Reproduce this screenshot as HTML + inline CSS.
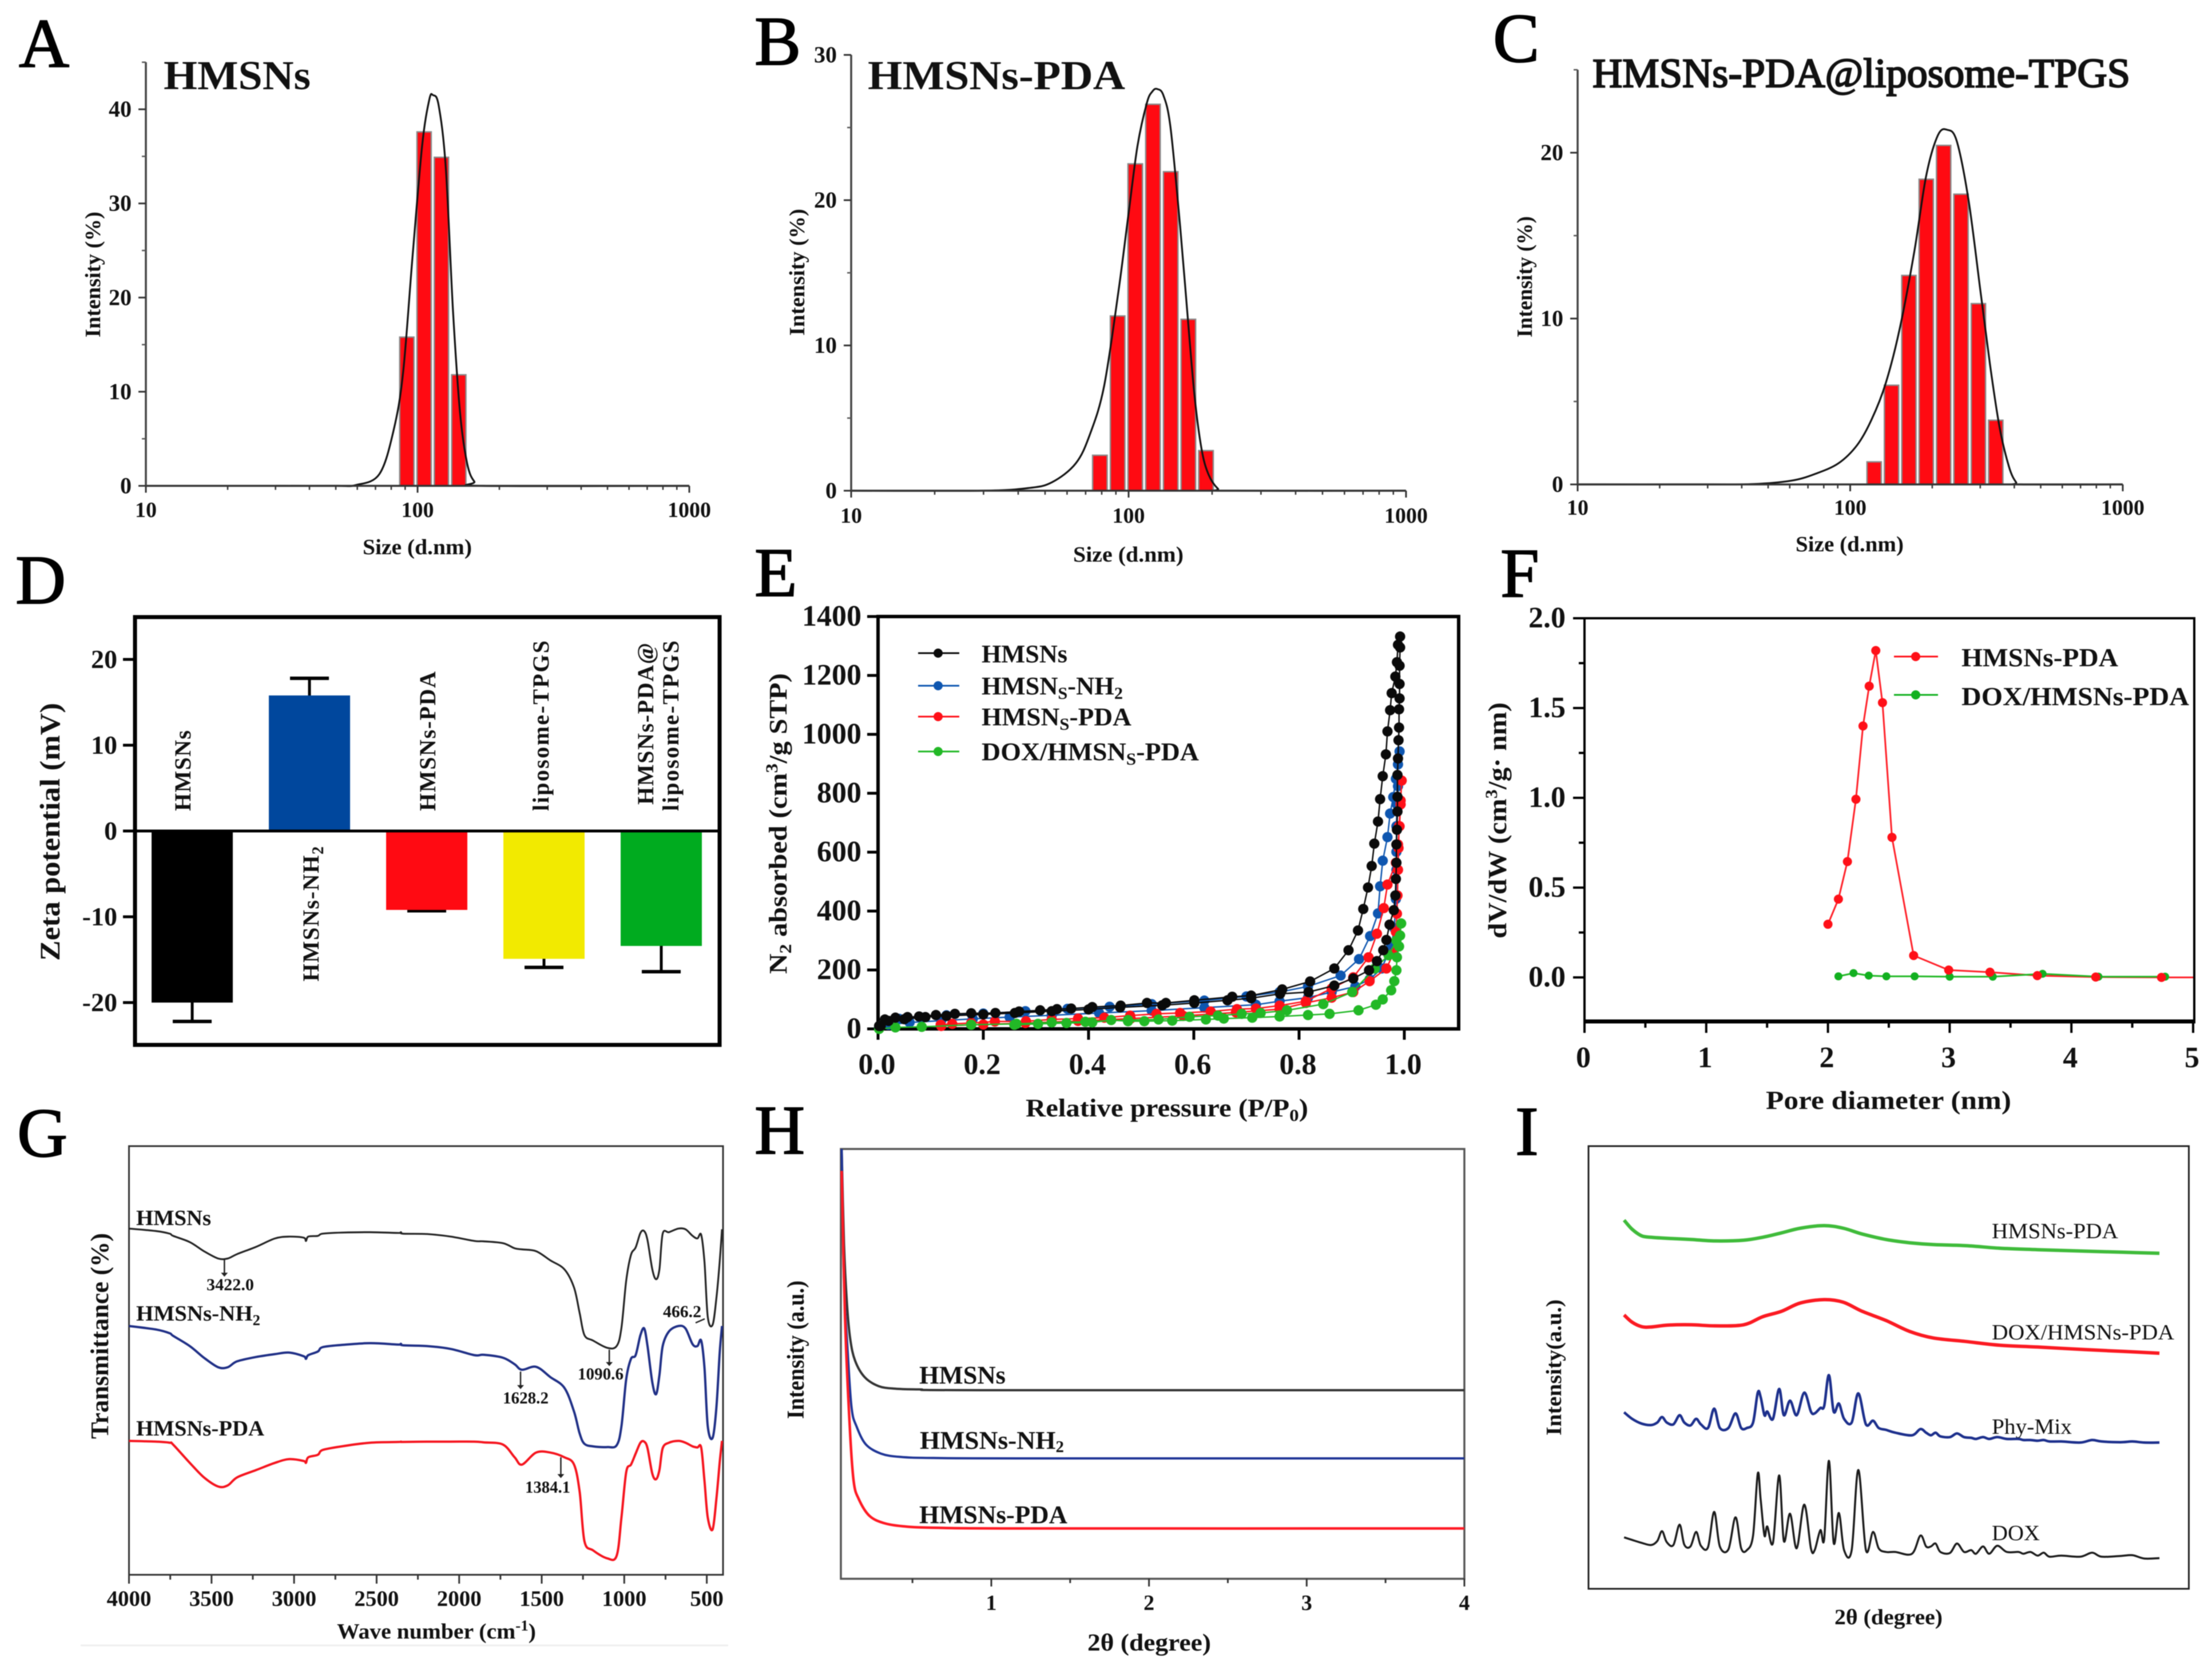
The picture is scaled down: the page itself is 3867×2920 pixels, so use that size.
<!DOCTYPE html>
<html lang="en">
<head>
<meta charset="utf-8">
<title>HMSNs characterization figure</title>
<style>
html,body{margin:0;padding:0;background:#fff;width:3867px;height:2920px;overflow:hidden}
svg{display:block;filter:blur(0.9px)}
text{font-family:"Liberation Serif",serif;fill:#111}
.b{font-weight:bold}
.letter{font-size:122px;fill:#000;stroke:#000;stroke-width:2}
.t72{font-size:72px}
.t46{font-size:46px}
.t44{font-size:44px}
.t42{font-size:42px}
.t40{font-size:40px}
.t38{font-size:38px}
.t30{font-size:30px}
</style>
</head>
<body>
<svg id="figure" xmlns="http://www.w3.org/2000/svg" width="3867" height="2920" viewBox="0 0 3867 2920">
<rect width="3867" height="2920" fill="#fff"/>

<g id="panel-a">
<text class="letter" x="33" y="117">A</text>
<text class="b t72" x="286" y="156" textLength="257" lengthAdjust="spacingAndGlyphs">HMSNs</text>
<text class="b t38" x="634" y="969" textLength="191" lengthAdjust="spacingAndGlyphs">Size (d.nm)</text>
<text class="b t38" transform="translate(175,590) rotate(-90)" textLength="220" lengthAdjust="spacingAndGlyphs">Intensity (%)</text>
</g>

<g id="panel-b">
<text class="letter" x="1319" y="113">B</text>
<text class="b t72" x="1517" y="156" textLength="450" lengthAdjust="spacingAndGlyphs">HMSNs-PDA</text>
<text class="b t38" x="1876" y="982" textLength="193" lengthAdjust="spacingAndGlyphs">Size (d.nm)</text>
<text class="b t38" transform="translate(1406,587) rotate(-90)" textLength="222" lengthAdjust="spacingAndGlyphs">Intensity (%)</text>
</g>

<g id="panel-c">
<text class="letter" x="2610" y="108">C</text>
<text class="t72" x="2784" y="152" textLength="940" lengthAdjust="spacingAndGlyphs" stroke="#111" stroke-width="2.4">HMSNs-PDA@liposome-TPGS</text>
<text class="b t38" x="3139" y="964" textLength="189" lengthAdjust="spacingAndGlyphs">Size (d.nm)</text>
<text class="b t38" transform="translate(2678,590) rotate(-90)" textLength="212" lengthAdjust="spacingAndGlyphs">Intensity (%)</text>
</g>

<g id="panel-d">
<text class="letter" x="27" y="1055">D</text>
<text class="b" font-size="50" transform="translate(104,1680) rotate(-90)" textLength="451" lengthAdjust="spacingAndGlyphs">Zeta potential (mV)</text>
<text class="b t40" transform="translate(333,1418) rotate(-90)" textLength="141">HMSNs</text>
<text class="b t40" transform="translate(557,1716) rotate(-90)" textLength="236">HMSNs-NH<tspan font-size="28" dy="8">2</tspan></text>
<text class="b t40" transform="translate(761,1418) rotate(-90)" textLength="244">HMSNs-PDA</text>
<text class="b t40" transform="translate(959,1418) rotate(-90)" textLength="298">liposome-TPGS</text>
<text class="b t40" transform="translate(1142,1407) rotate(-90)" textLength="283">HMSNs-PDA@</text>
<text class="b t40" transform="translate(1186,1418) rotate(-90)" textLength="298">liposome-TPGS</text>
</g>

<g id="panel-e">
<text class="letter" x="1319" y="1042">E</text>
<text class="b t44" transform="translate(1375,1703) rotate(-90)" textLength="526" lengthAdjust="spacingAndGlyphs">N<tspan font-size="30" dy="8">2</tspan><tspan dy="-8"> absorbed (cm</tspan><tspan font-size="30" dy="-16">3</tspan><tspan dy="16">/g STP)</tspan></text>
<text class="b t44" x="1793" y="1952" textLength="494" lengthAdjust="spacingAndGlyphs">Relative pressure (P/P<tspan font-size="30" dy="8">0</tspan><tspan dy="-8">)</tspan></text>
<text class="b t44" x="1716" y="1158" textLength="150" lengthAdjust="spacingAndGlyphs">HMSNs</text>
<text class="b t44" x="1716" y="1214" textLength="247" lengthAdjust="spacingAndGlyphs">HMSN<tspan font-size="30" dy="8">S</tspan><tspan dy="-8">-NH</tspan><tspan font-size="30" dy="8">2</tspan></text>
<text class="b t44" x="1716" y="1268" textLength="262" lengthAdjust="spacingAndGlyphs">HMSN<tspan font-size="30" dy="8">S</tspan><tspan dy="-8">-PDA</tspan></text>
<text class="b t44" x="1716" y="1329" textLength="380" lengthAdjust="spacingAndGlyphs">DOX/HMSN<tspan font-size="30" dy="8">S</tspan><tspan dy="-8">-PDA</tspan></text>
</g>

<g id="panel-f">
<text class="letter" x="2623" y="1043">F</text>
<text class="b t46" transform="translate(2633,1641) rotate(-90)" textLength="413" lengthAdjust="spacingAndGlyphs">dV/dW (cm<tspan font-size="30" dy="-16">3</tspan><tspan dy="16">/g· nm)</tspan></text>
<text class="b t46" x="3087" y="1939" textLength="429" lengthAdjust="spacingAndGlyphs">Pore diameter (nm)</text>
<text class="b t46" x="3429" y="1165" textLength="274" lengthAdjust="spacingAndGlyphs">HMSNs-PDA</text>
<text class="b t46" x="3429" y="1233" textLength="398" lengthAdjust="spacingAndGlyphs">DOX/HMSNs-PDA</text>
</g>

<g id="panel-g">
<text class="letter" x="30" y="2022">G</text>
<line x1="141" y1="2877" x2="1273" y2="2877" stroke="#eee" stroke-width="3"/>
<text class="b t44" transform="translate(189,2516) rotate(-90)" textLength="360" lengthAdjust="spacingAndGlyphs">Transmittance (%)</text>
<text class="b t38" x="589" y="2865" textLength="348" lengthAdjust="spacingAndGlyphs">Wave number (cm<tspan font-size="26" dy="-14">-1</tspan><tspan dy="14">)</tspan></text>
<text class="b t38" x="238" y="2142" textLength="131" lengthAdjust="spacingAndGlyphs">HMSNs</text>
<text class="b t38" x="238" y="2309" textLength="217" lengthAdjust="spacingAndGlyphs">HMSNs-NH<tspan font-size="26" dy="8">2</tspan></text>
<text class="b t38" x="238" y="2510" textLength="224" lengthAdjust="spacingAndGlyphs">HMSNs-PDA</text>
<text class="b t30" x="361" y="2256" textLength="83" lengthAdjust="spacingAndGlyphs">3422.0</text>
<text class="b t30" x="1010" y="2412" textLength="80" lengthAdjust="spacingAndGlyphs">1090.6</text>
<text class="b t30" x="879" y="2454" textLength="80" lengthAdjust="spacingAndGlyphs">1628.2</text>
<text class="b t30" x="918" y="2610" textLength="79" lengthAdjust="spacingAndGlyphs">1384.1</text>
<text class="b t30" x="1159" y="2303" textLength="67" lengthAdjust="spacingAndGlyphs">466.2</text>
</g>

<g id="panel-h">
<text class="letter" x="1319" y="2017">H</text>
<text class="b t42" transform="translate(1405,2481) rotate(-90)" textLength="242" lengthAdjust="spacingAndGlyphs">Intensity (a.u.)</text>
<text class="b t42" x="1901" y="2886" textLength="216" lengthAdjust="spacingAndGlyphs">2θ (degree)</text>
<text class="b t44" x="1607" y="2419" textLength="151" lengthAdjust="spacingAndGlyphs">HMSNs</text>
<text class="b t44" x="1608" y="2533" textLength="252" lengthAdjust="spacingAndGlyphs">HMSNs-NH<tspan font-size="28" dy="6">2</tspan></text>
<text class="b t44" x="1607" y="2663" textLength="259" lengthAdjust="spacingAndGlyphs">HMSNs-PDA</text>
</g>

<g id="panel-i">
<text class="letter" x="2649" y="2019">I</text>
<text class="b t38" transform="translate(2729,2510) rotate(-90)" textLength="238" lengthAdjust="spacingAndGlyphs">Intensity(a.u.)</text>
<text class="b t38" x="3207" y="2840" textLength="189" lengthAdjust="spacingAndGlyphs">2θ (degree)</text>
<text class="t38" x="3482" y="2165" textLength="221" lengthAdjust="spacingAndGlyphs">HMSNs-PDA</text>
<text class="t38" x="3482" y="2342" textLength="319" lengthAdjust="spacingAndGlyphs">DOX/HMSNs-PDA</text>
<text class="t38" x="3482" y="2507" textLength="140" lengthAdjust="spacingAndGlyphs">Phy-Mix</text>
<text class="t38" x="3482" y="2693" textLength="84" lengthAdjust="spacingAndGlyphs">DOX</text>
</g>
</svg>

<script>
// ---------- Panels A, B, C: size distribution ----------
const sizeTickLabels = [10, 100, 1000];
const sizeMinorTicks = [20, 30, 40, 50, 60, 70, 80, 90, 200, 300, 400, 500, 600, 700, 800, 900];
const aBarSizes = [91.3, 105.7, 122.4, 141.8];
const aBarValues = [15.8, 37.6, 34.9, 11.8];
const aCurveSizes = [30, 50, 59.2, 72.3, 81.6, 88.5, 95.9, 103.9, 110.4, 114, 119.6, 127, 135, 143.3, 152.2, 161.7, 175, 1000];
const aCurveValues = [0, 0, 0.08, 1.24, 5.9, 12.1, 24.5, 36.1, 41, 41.5, 40.4, 33.8, 18.6, 7.8, 2.4, 0.47, 0, 0];
const aYTicks = [0, 10, 20, 30, 40];
const aYMinor = [5, 15, 25, 35, 45];
const bBarSizes = [78.8, 91.3, 105.7, 122.4, 141.8, 164.2, 190.1];
const bBarValues = [2.44, 12.03, 22.5, 26.6, 21.96, 11.8, 2.76];
const bCurveSizes = [10, 29.3, 43.5, 52.9, 64.5, 72.6, 81.6, 91.9, 99.4, 107.6, 116.4, 122, 126.9, 133.6, 141.6, 153.4, 162.6, 172.6, 183.1, 194, 210, 222.9, 1000];
const bCurveValues = [0, 0, 0.18, 0.58, 1.88, 3.9, 7.2, 13.7, 18.7, 23.7, 26.7, 27.5, 27.65, 27.2, 25, 18.2, 12.4, 6.65, 2.9, 1.13, 0.13, 0, 0];
const bYTicks = [0, 10, 20, 30];
const bYMinor = [5, 15, 25];
const cBarSizes = [122.4, 141.8, 164.2, 190.1, 220.2, 255, 295.3, 342];
const cBarValues = [1.36, 5.98, 12.6, 18.4, 20.44, 17.5, 10.9, 3.87];
const cCurveSizes = [10, 29.5, 44, 60.6, 74, 90.5, 106, 119.7, 135, 152, 171.7, 190, 209.8, 227, 246, 272, 300.8, 325.9, 353, 382.6, 406, 422.8, 1000];
const cCurveValues = [0, 0, 0.02, 0.22, 0.62, 1.27, 2.37, 3.9, 6.1, 9.4, 14, 18.6, 21.05, 21.38, 20.7, 17.1, 11.6, 7.2, 3.47, 1.05, 0.13, 0, 0];
const cYTicks = [0, 10, 20];
const cYMinor = [5, 15, 25];

// ---------- Panel D: zeta potential ----------
const zetaCategories = ['HMSNs', 'HMSNs-NH2', 'HMSNs-PDA', 'liposome-TPGS', 'HMSNs-PDA@liposome-TPGS'];
const zetaValues = [-20, 15.8, -9.2, -14.9, -13.4];
const zetaErrors = [2.2, 2, 0.1, 1, 3];
const zetaColors = ['#000000', '#00479d', '#ff0a12', '#f2ea00', '#00ab1f'];
const zetaTicks = [-20, -10, 0, 10, 20];

// ---------- Panel E: isotherms ----------
const hmsnsDesP = [.992,.988,.986,.983,.976,.973,.968,.965,.959,.954,.950,.943,.938,.931,.922,.912,.894,.867,.821,.768,.709,.673,.601,.547,.511,.461,.407,.367,.340,.308,.268,.223,.177,.146,.110,.078,.056,.033,.013,.002];
const hmsnsDesV = [1332,1304,1245,1196,1140,1082,1010,932,858,780,704,629,553,480,407,334,267,205,161,134,113,109,97,88,88,79,74,69,67,63,59,54,53,51,47,42,40,38,32,10];
const hmsnsAdsP = [.992,.991,.991,.991,.990,.990,.989,.988,.987,.987,.987,.986,.985,.985,.984,.983,.980,.972,.966,.960,.948,.933,.903,.867,.818,.764,.709,.664,.601,.54,.46,.40,.33,.26,.2,.13,.09,.05,.02,.005];
const hmsnsAdsV = [1295,1233,1171,1122,1085,1023,980,918,862,788,738,676,626,564,509,453,403,354,302,267,230,199,171,147,125,119,104,97,88,80,73,66,60,54,49,44,40,33,27,10];
const nh2DesP = [.991,.988,.984,.979,.973,.968,.959,.954,.950,.935,.914,.879,.817,.763,.70,.62,.52,.44,.36,.28,.2,.13,.08,.04,.015,.003];
const nh2DesV = [942,898,849,787,731,651,571,484,392,315,237,181,144,125,110,96,84,75,68,60,52,46,40,34,26,10];
const nh2AdsP = [.988,.986,.985,.985,.985,.984,.981,.975,.957,.934,.907,.862,.817,.763,.718,.62,.52,.42,.33,.25,.18,.12,.06,.02,.002];
const nh2AdsV = [824,762,688,601,540,441,342,280,205,168,144,125,106,94,82,72,62,54,46,40,34,28,22,14,4];
const pdaDesP = [.995,.993,.991,.988,.984,.968,.961,.948,.932,.903,.862,.813,.763,.718,.682,.632,.574,.529,.479,.43,.38,.33,.281,.222,.177,.141,.119];
const pdaDesV = [843,775,688,626,564,490,410,323,243,175,137,94,79,69,67,59,54,51,45,38,35,32,26,25,20,17,14];
const pdaAdsP = [.993,.990,.989,.988,.987,.986,.984,.979,.966,.934,.903,.862,.813,.763,.68,.58,.48,.38,.28,.2,.12];
const pdaAdsV = [762,688,614,540,453,391,329,255,205,162,125,106,88,67,56,44,35,27,20,15,10];
const doxAdsP = [.994,.992,.99,.986,.985,.981,.975,.959,.946,.913,.858,.817,.763,.711,.657,.623,.559,.506,.475,.443,.407,.358,.304,.259];
const doxAdsV = [358,317,280,243,199,162,131,100,82,63,51,47,42,38,35,32,28,26,26,30,22,20,17,14];
const doxDesP = [.985,.97,.944,.901,.846,.777,.727,.691,.646,.592,.533,.475,.394,.33,.263,.177,.083,.033,.002];
const doxDesV = [300,250,205,125,84,63,54,51,45,41,32,30,24,22,17,14,7,5,0];
const eXTicks = [0, 0.2, 0.4, 0.6, 0.8, 1];
const eYTicks = [0, 200, 400, 600, 800, 1000, 1200, 1400];

// ---------- Panel F: pore distribution ----------
const poreRedD = [2.0,2.086,2.16,2.23,2.288,2.339,2.393,2.448,2.526,2.704,2.992,3.331,3.72,4.2,4.74];
const poreRedV = [.296,.436,.645,.992,1.4,1.622,1.82,1.53,.78,.122,.041,.029,.01,.002,0];
const poreGreenD = [2.086,2.21,2.335,2.48,2.712,3.0,3.354,3.763,4.222,4.77];
const poreGreenV = [.006,.024,.01,.006,.006,.004,.004,.02,.004,.004];
const fXTicks = [0, 1, 2, 3, 4, 5];
const fXMinor = [0.5, 1.5, 2.5, 3.5, 4.5];
const fYTicks = [0, 0.5, 1, 1.5, 2];
const fYMinor = [0.25, 0.75, 1.25, 1.75];

// ---------- Panel G: FTIR ----------
const ftirWave = [4000,3833,3753,3733,3632,3546,3460,3402,3345,3230,3115,3029,2942,2928,2914,2856,2827,2712,2540,2368,2353,2339,2195,2051,1908,1850,1735,1664,1620,1534,1448,1362,1304,1270,1241,1189,1103,1046,1017,988,959,931,902,879,859,830,807,787,767,729,672,629,586,557,534,514,494,465,442,422,408];
const ftirHmsns = [949,942,935,929,912,887,867,867,879,899,922,927,924,915,927,929,935,938,939,937,939,935,934,927,915,914,909,895,892,887,862,837,787,717,657,642,622,627,677,807,877,897,937,942,917,837,810,837,935,939,949,947,929,922,932,857,707,685,757,857,947];
const ftirNh2 = [682,672,662,655,627,595,569,569,585,597,605,609,599,592,602,612,624,630,635,631,633,629,627,619,602,603,595,577,562,570,542,512,447,387,359,352,350,355,407,537,592,602,657,675,627,527,495,547,627,667,682,675,632,627,642,567,407,375,457,607,682];
const ftirPda = [367,365,362,357,307,267,242,245,267,287,307,317,312,307,322,329,342,352,362,364,365,364,365,365,365,363,357,322,302,335,335,322,302,227,92,67,45,52,157,282,302,332,362,365,347,277,262,287,347,362,367,362,352,349,349,257,157,124,207,307,367];
const gXTicks = [4000, 3500, 3000, 2500, 2000, 1500, 1000, 500];
const gXMinor = [3750, 3250, 2750, 2250, 1750, 1250, 750];
const gArrowWave = [3422, 1090.6, 1628.2, 1384.1];
const gArrowFrom = [867, 617, 557, 322];
const gArrowTo = [817, 572, 509, 265];

// ---------- Panel H: low angle XRD ----------
const hAngleBlack = [.051,.066,.084,.105,.136,.196,.286,.392,.542,.934,4];
const hBlack = [1178,918,758,658,598,553,528,521,519,517,517];
const hAngleBlue = [.051,.066,.09,.114,.145,.205,.301,.422,.633,1.235,4];
const hBlue = [1178,818,618,468,418,368,343,334,331,330,330];
const hAngleRed = [.051,.072,.102,.127,.16,.226,.316,.437,.633,1.235,4];
const hRed = [1118,718,418,268,218,173,153,144,140,138,138];
const hXTicks = [1, 2, 3, 4];
const hXMinor = [0.5, 1.5, 2.5, 3.5];

// ---------- Panel I: wide angle XRD ----------
const iCrystalAngle = [3.0,3.68,4.48,5.28,5.8,6.2,6.6,7.16,7.68,8.08,8.6,9.08,9.48,10.08,10.6,11.08,11.8,12.4,12.88,13.36,13.88,14.28,14.52,14.84,15.08,15.56,16.08,16.48,17.0,17.56,18.2,18.76,19.08,19.56,19.88,20.28,20.68,21.12,21.56,22.2,22.76,23.4,24.0,24.48,25.08,25.88,27.28,28.0,28.48,28.88,29.28,29.68,30.48,31.08,31.68,32.28,32.68,33.28,33.8,34.48,35.28,36.28,36.68,37.28,37.88,38.4,38.88,39.88,41.48,42.48,43.28,44.88,45.88,46.88,48.16];
const iDox = [141,134,126,120,131,158,128,120,176,121,116,156,118,114,211,116,108,196,111,106,146,316,246,146,171,126,311,131,206,111,231,111,106,161,136,351,126,208,106,106,326,106,156,111,101,101,96,146,116,116,124,101,98,124,101,106,96,116,96,118,101,101,96,101,91,99,88,91,88,99,88,90,92,83,84];
const iPhyMix = [484,466,453,449,456,471,456,451,476,456,448,466,451,441,494,441,441,481,441,441,456,538,526,476,486,466,548,476,516,476,538,486,481,496,501,586,486,508,466,456,536,451,461,441,436,428,421,438,428,421,428,418,416,426,416,414,411,416,411,416,411,411,408,408,406,408,404,404,401,408,404,402,404,401,401];
const iAmorphAngle = [3,3.68,4.48,5.28,6.68,8.68,10.68,13.08,14.68,16.28,17.88,19.88,21.48,23.08,25.08,27.08,29.08,31.88,34.68,37.88,41.88,45.08,48.16];
const iPda = [1011,986,968,964,961,958,954,956,964,976,989,996,989,973,958,949,944,941,934,930,926,923,920];
const iDoxPda = [751,731,719,718,723,724,721,724,746,761,784,793,786,761,736,706,688,678,668,663,656,651,646];

// ---------- Helpers ----------
const NS = 'http://www.w3.org/2000/svg';
function mk(parent, tag, attrs, text) {
  const el = document.createElementNS(NS, tag);
  for (const k in attrs) el.setAttribute(k, attrs[k]);
  if (text !== undefined) el.textContent = text;
  parent.appendChild(el);
  return el;
}
function tag(el, name) {
  
  
  return el;
}
const linear = (d0, d1, r0, r1) => v => r0 + (v - d0) / (d1 - d0) * (r1 - r0);
const logScale = (d0, d1, r0, r1) => v => r0 + (Math.log10(v) - Math.log10(d0)) / (Math.log10(d1) - Math.log10(d0)) * (r1 - r0);
function linePath(xs, ys, fx, fy) {
  return xs.map((x, i) => (i ? 'L' : 'M') + fx(x).toFixed(1) + ' ' + fy(ys[i]).toFixed(1)).join('');
}
function smoothPath(xs, ys, fx, fy) {
  const p = xs.map((x, i) => [fx(x), fy(ys[i])]);
  let d = 'M' + p[0][0].toFixed(1) + ' ' + p[0][1].toFixed(1);
  for (let i = 0; i < p.length - 1; i++) {
    const a = p[Math.max(i - 1, 0)], b = p[i], c = p[i + 1], e = p[Math.min(i + 2, p.length - 1)];
    const c1x = b[0] + (c[0] - a[0]) / 6, c1y = b[1] + (c[1] - a[1]) / 6;
    const c2x = c[0] - (e[0] - b[0]) / 6, c2y = c[1] - (e[1] - b[1]) / 6;
    d += 'C' + c1x.toFixed(1) + ' ' + c1y.toFixed(1) + ' ' + c2x.toFixed(1) + ' ' + c2y.toFixed(1) + ' ' + c[0].toFixed(1) + ' ' + c[1].toFixed(1);
  }
  return d;
}
function tickLine(g, x1, y1, x2, y2, color, w) {
  const t = mk(g, 'line', {x1, y1, x2, y2, stroke: color, 'stroke-width': w});
  tag(t, 'axis-tick');
  return t;
}
function tickText(g, x, y, anchor, size, str) {
  const t = mk(g, 'text', {x, y, 'text-anchor': anchor, 'font-size': size, 'font-weight': 'bold'}, str);
  tag(t, 'tick-label');
  return t;
}

// ---------- Draw A, B, C ----------
function drawSize(id, barSizes, barValues, curveSizes, curveValues, yTicks, yMinor, yMax, box) {
  const g = document.getElementById(id);
  const x = logScale(10, 1000, box.x0, box.x1);
  const y = linear(0, yMax, box.y0, box.y1);
  barSizes.forEach((s, i) => {
    const left = x(s * Math.pow(10, -0.0262)), right = x(s * Math.pow(10, 0.0262));
    const bar = mk(g, 'rect', {x: left, y: y(barValues[i]), width: right - left, height: y(0) - y(barValues[i]), fill: '#ff0a12', stroke: '#8a8a8a', 'stroke-width': 2.5});
    tag(bar, 'size-bar');
  });
  const c = mk(g, 'path', {d: smoothPath(curveSizes, curveValues, x, y), fill: 'none', stroke: '#111', 'stroke-width': 3.2});
  tag(c, 'fit-curve');
  const ax = mk(g, 'line', {x1: box.x0, y1: box.y0, x2: box.x1, y2: box.y0, stroke: '#333', 'stroke-width': 3.5});
  tag(ax, 'x-axis');
  const ay = mk(g, 'line', {x1: box.x0, y1: box.y0, x2: box.x0, y2: box.y1, stroke: '#444', 'stroke-width': 3.5});
  tag(ay, 'y-axis');
  sizeTickLabels.forEach(v => {
    tickLine(g, x(v), box.y0, x(v), box.y0 + 12, '#333', 3);
    tickText(g, x(v), box.xLabelY, 'middle', 38, String(v));
  });
  sizeMinorTicks.forEach(v => tickLine(g, x(v), box.y0, x(v), box.y0 + 7, '#333', 2.5));
  yTicks.forEach(v => {
    tickLine(g, box.x0 - 13, y(v), box.x0, y(v), '#333', 3);
    tickText(g, box.x0 - 25, y(v) + 13, 'end', 40, String(v));
  });
  yMinor.forEach(v => tickLine(g, box.x0 - 7, y(v), box.x0, y(v), '#555', 2.5));
}
drawSize('panel-a', aBarSizes, aBarValues, aCurveSizes, aCurveValues, aYTicks, aYMinor, 45, {x0: 255, x1: 1205, y0: 849.5, y1: 108.8, xLabelY: 904});
drawSize('panel-b', bBarSizes, bBarValues, bCurveSizes, bCurveValues, bYTicks, bYMinor, 30, {x0: 1488, x1: 2458, y0: 858, y1: 96, xLabelY: 914});
drawSize('panel-c', cBarSizes, cBarValues, cCurveSizes, cCurveValues, cYTicks, cYMinor, 25, {x0: 2758, x1: 3711, y0: 847, y1: 122, xLabelY: 900});

// ---------- Draw D ----------
(function () {
  const g = document.getElementById('panel-d');
  const y = linear(-20, 20, 1753, 1153);
  const cx = i => 336 + i * 205;
  zetaCategories.forEach((cat, i) => {
    const v = zetaValues[i], e = zetaErrors[i], sign = v < 0 ? -1 : 1;
    const stem = mk(g, 'line', {x1: cx(i), y1: y(v), x2: cx(i), y2: y(v + sign * e), stroke: '#000', 'stroke-width': 5});
    tag(stem, 'error-stem');
    const cap = mk(g, 'line', {x1: cx(i) - 34, y1: y(v + sign * e), x2: cx(i) + 34, y2: y(v + sign * e), stroke: '#000', 'stroke-width': 6});
    tag(cap, 'error-cap');
    const bar = mk(g, 'rect', {x: cx(i) - 71, y: Math.min(y(v), y(0)), width: 142, height: Math.abs(y(v) - y(0)), fill: zetaColors[i]});
    tag(bar, 'zeta-bar');
  });
  const zero = mk(g, 'line', {x1: 233, y1: y(0), x2: 1260, y2: y(0), stroke: '#000', 'stroke-width': 5});
  tag(zero, 'zero-line');
  const fr = mk(g, 'rect', {x: 236, y: 1079, width: 1022, height: 748, fill: 'none', stroke: '#000', 'stroke-width': 7});
  tag(fr, 'plot-frame');
  zetaTicks.forEach(v => {
    tickLine(g, 215, y(v), 236, y(v), '#000', 5);
    tickText(g, 205, y(v) + 15, 'end', 46, String(v));
  });
})();

// ---------- Draw E ----------
(function () {
  const g = document.getElementById('panel-e');
  const x = linear(0, 1, 1535, 2455);
  const y = linear(0, 1400, 1799, 1078);
  const fr = mk(g, 'rect', {x: 1535, y: 1078, width: 1015, height: 721, fill: 'none', stroke: '#000', 'stroke-width': 6});
  tag(fr, 'plot-frame');
  eXTicks.forEach(v => {
    tickLine(g, x(v), 1799, x(v), 1818, '#000', 5);
    tickText(g, x(v) - 2, 1878, 'middle', 52, v.toFixed(1));
  });
  eYTicks.forEach(v => {
    tickLine(g, 1516, y(v), 1535, y(v), '#000', 5);
    tickText(g, 1506, y(v) + 16, 'end', 52, String(v));
  });
  const seriesOf = [
    [nh2DesP, nh2DesV, nh2AdsP, nh2AdsV, '#0e56b0', 'hmsns-nh2'],
    [pdaDesP, pdaDesV, pdaAdsP, pdaAdsV, '#ff1018', 'hmsns-pda'],
    [doxAdsP, doxAdsV, doxDesP, doxDesV, '#22b826', 'dox-hmsns-pda'],
    [hmsnsDesP, hmsnsDesV, hmsnsAdsP, hmsnsAdsV, '#0a0a0a', 'hmsns']
  ];
  seriesOf.forEach(s => {
    [[s[0], s[1]], [s[2], s[3]]].forEach(b => {
      const p = mk(g, 'path', {d: linePath(b[0], b[1], x, y), fill: 'none', stroke: s[4], 'stroke-width': 2.5});
      tag(p, 'isotherm-line');
      b[0].forEach((px, i) => {
        const c = mk(g, 'circle', {cx: x(px), cy: y(b[1][i]), r: 9, fill: s[4]});
        tag(c, 'isotherm-point');
      });
    });
  });
  const legendYs = [1142, 1199, 1253, 1314];
  const legendColors = ['#0a0a0a', '#0e56b0', '#ff1018', '#22b826'];
  legendColors.forEach((col, i) => {
    const l = mk(g, 'line', {x1: 1605, y1: legendYs[i], x2: 1677, y2: legendYs[i], stroke: col, 'stroke-width': 3});
    tag(l, 'legend-line');
    const m = mk(g, 'circle', {cx: 1640, cy: legendYs[i], r: 8, fill: col});
    tag(m, 'legend-marker');
  });
})();

// ---------- Draw F ----------
(function () {
  const g = document.getElementById('panel-f');
  const x = linear(0, 5, 2770, 3834);
  const y = linear(0, 2, 1709, 1081);
  const fr = mk(g, 'rect', {x: 2770, y: 1081, width: 1066, height: 705, fill: 'none', stroke: '#000', 'stroke-width': 4});
  tag(fr, 'plot-frame');
  const base = mk(g, 'line', {x1: 2768, y1: 1786, x2: 3838, y2: 1786, stroke: '#000', 'stroke-width': 7});
  tag(base, 'x-axis');
  fXTicks.forEach(v => {
    tickLine(g, x(v), 1786, x(v), 1806, '#000', 4);
    tickText(g, x(v) - 2, 1866, 'middle', 52, String(v));
  });
  fXMinor.forEach(v => tickLine(g, x(v), 1786, x(v), 1797, '#000', 4));
  fYTicks.forEach(v => {
    tickLine(g, 2750, y(v), 2770, y(v), '#000', 4);
    tickText(g, 2737, y(v) + 16, 'end', 52, v.toFixed(1));
  });
  fYMinor.forEach(v => tickLine(g, 2760, y(v), 2770, y(v), '#000', 4));
  const redLine = mk(g, 'path', {d: linePath(poreRedD, poreRedV, x, y) + 'L3834 ' + y(0), fill: 'none', stroke: '#ff2028', 'stroke-width': 3});
  tag(redLine, 'pore-line-hmsns-pda');
  const greenLine = mk(g, 'path', {d: linePath(poreGreenD, poreGreenV, x, y), fill: 'none', stroke: '#22b826', 'stroke-width': 3});
  tag(greenLine, 'pore-line-dox-hmsns-pda');
  poreGreenD.forEach((d, i) => {
    const c = mk(g, 'circle', {cx: x(d), cy: y(poreGreenV[i]), r: 7, fill: '#12b020'});
    tag(c, 'pore-point-green');
  });
  poreRedD.forEach((d, i) => {
    const c = mk(g, 'circle', {cx: x(d), cy: y(poreRedV[i]), r: 8, fill: '#ff1018'});
    tag(c, 'pore-point-red');
  });
  const legendYs = [1148, 1215];
  const legendColors = ['#ff1018', '#12b020'];
  legendColors.forEach((col, i) => {
    const l = mk(g, 'line', {x1: 3311, y1: legendYs[i], x2: 3388, y2: legendYs[i], stroke: col, 'stroke-width': 3});
    tag(l, 'legend-line');
    const m = mk(g, 'circle', {cx: 3349, cy: legendYs[i], r: 8, fill: col});
    tag(m, 'legend-marker');
  });
})();

// ---------- Draw G ----------
(function () {
  const g = document.getElementById('panel-g');
  const x = linear(4000, 500, 225.5, 1235.6);
  const y = linear(0, 1175, 2753.5, 2004);
  const fr = mk(g, 'rect', {x: 225.5, y: 2004, width: 1038.5, height: 749.5, fill: 'none', stroke: '#333', 'stroke-width': 3});
  tag(fr, 'plot-frame');
  gXTicks.forEach(v => {
    tickLine(g, x(v), 2753, x(v), 2769, '#333', 3);
    tickText(g, x(v), 2808, 'middle', 39, String(v));
  });
  gXMinor.forEach(v => tickLine(g, x(v), 2753, x(v), 2762, '#333', 3));
  const series = [[ftirHmsns, '#222222', 3.2, 'ftir-hmsns'], [ftirNh2, '#1f2f86', 4, 'ftir-hmsns-nh2'], [ftirPda, '#f5141e', 4, 'ftir-hmsns-pda']];
  series.forEach(s => {
    const p = mk(g, 'path', {d: smoothPath(ftirWave, s[0], x, y), fill: 'none', stroke: s[1], 'stroke-width': s[2], 'stroke-linejoin': 'round'});
    tag(p, s[3]);
  });
  gArrowWave.forEach((w, i) => {
    const ax = x(w), y1 = y(gArrowFrom[i]), y2 = y(gArrowTo[i]);
    const l = mk(g, 'line', {x1: ax, y1: y1, x2: ax, y2: y2 - 4, stroke: '#222', 'stroke-width': 2.5});
    tag(l, 'peak-arrow-shaft');
    const h = mk(g, 'path', {d: 'M' + (ax - 6) + ' ' + (y2 - 7) + 'L' + (ax + 6) + ' ' + (y2 - 7) + 'L' + ax + ' ' + y2 + 'Z', fill: '#222'});
    tag(h, 'peak-arrow-head');
  });
  const a466 = mk(g, 'path', {d: 'M1232 2306L1216 2313', stroke: '#222', 'stroke-width': 2.5, fill: 'none'});
  tag(a466, 'peak-arrow-466');
})();

// ---------- Draw H ----------
(function () {
  const g = document.getElementById('panel-h');
  const x = linear(1, 4, 1733, 2560);
  const y = linear(0, 1178, 2760.5, 2009);
  const fr = mk(g, 'rect', {x: 1470, y: 2009, width: 1090, height: 751.5, fill: 'none', stroke: '#555', 'stroke-width': 3.5});
  tag(fr, 'plot-frame');
  hXTicks.forEach(v => {
    tickLine(g, x(v), 2760, x(v), 2774, '#333', 3);
    tickText(g, x(v), 2815, 'middle', 38, String(v));
  });
  hXMinor.forEach(v => tickLine(g, x(v), 2760, x(v), 2768, '#333', 3));
  const series = [[hAngleBlack, hBlack, '#333333', 4, 'xrd-hmsns'], [hAngleBlue, hBlue, '#1f3596', 4, 'xrd-hmsns-nh2'], [hAngleRed, hRed, '#ff1a24', 4.5, 'xrd-hmsns-pda']];
  series.forEach(s => {
    const p = mk(g, 'path', {d: smoothPath(s[0], s[1], x, y), fill: 'none', stroke: s[2], 'stroke-width': s[3]});
    tag(p, s[4]);
  });
})();

// ---------- Draw I ----------
(function () {
  const g = document.getElementById('panel-i');
  const x = linear(0, 50.64, 2777, 3826.5);
  const y = linear(0, 1214, 2778, 2004);
  const fr = mk(g, 'rect', {x: 2777, y: 2004, width: 1049.5, height: 774, fill: 'none', stroke: '#222', 'stroke-width': 3});
  tag(fr, 'plot-frame');
  const amorph = [[iPda, '#3fbb3a', 'xrd-hmsns-pda'], [iDoxPda, '#fb1a22', 'xrd-dox-hmsns-pda']];
  amorph.forEach(s => {
    const p = mk(g, 'path', {d: smoothPath(iAmorphAngle, s[0], x, y), fill: 'none', stroke: s[1], 'stroke-width': 6});
    tag(p, s[2]);
  });
  const crystal = [[iPhyMix, '#1c2f8c', 4.5, 'xrd-phy-mix'], [iDox, '#1a1a1a', 3.5, 'xrd-dox']];
  crystal.forEach(s => {
    const p = mk(g, 'path', {d: smoothPath(iCrystalAngle, s[0], x, y), fill: 'none', stroke: s[1], 'stroke-width': s[2], 'stroke-linejoin': 'round'});
    tag(p, s[3]);
  });
})();
</script>
</body>
</html>
